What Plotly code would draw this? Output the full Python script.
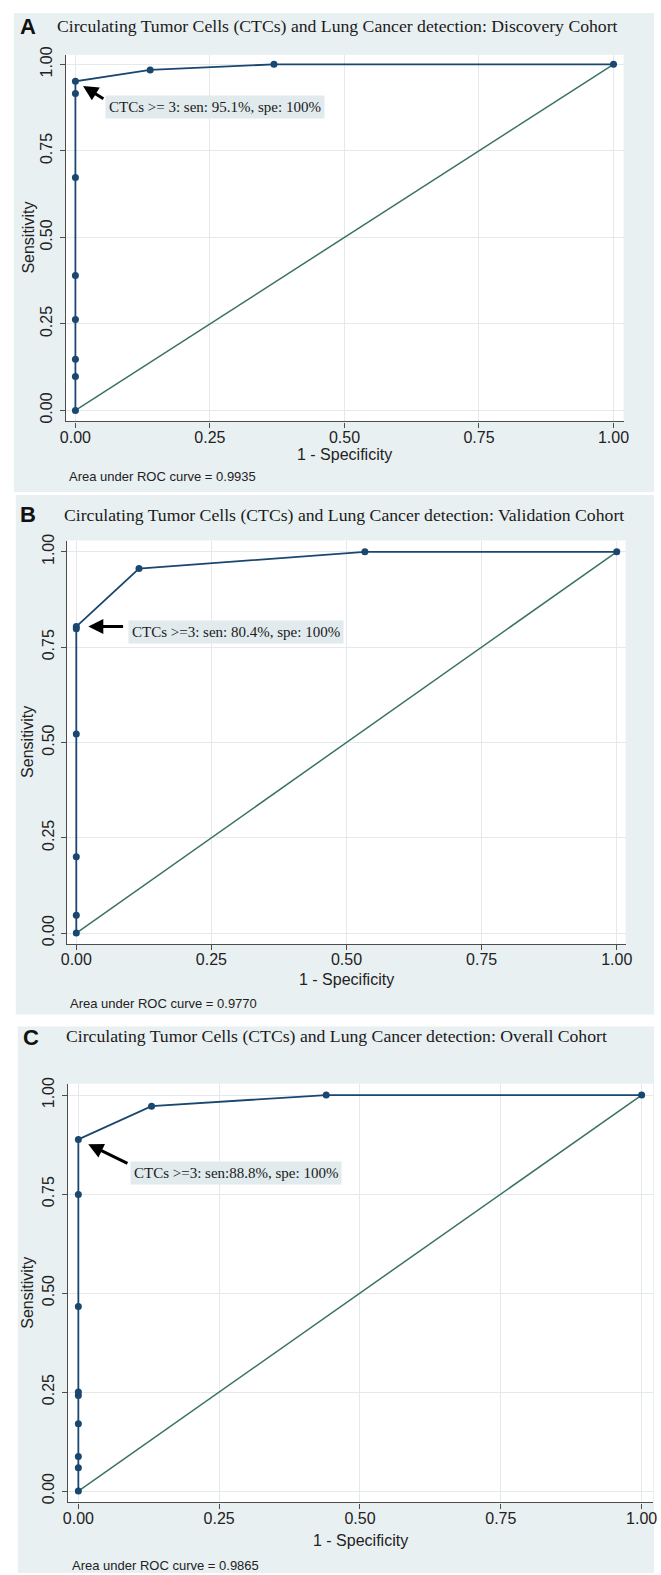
import plotly.graph_objects as go

W, H = 661, 1575

# ---------------- data ----------------
letters = ["A", "B", "C"]
titles = [
    "Circulating Tumor Cells (CTCs) and Lung Cancer detection: Discovery Cohort",
    "Circulating Tumor Cells (CTCs) and Lung Cancer detection: Validation Cohort",
    "Circulating Tumor Cells (CTCs) and Lung Cancer detection: Overall Cohort",
]
fpr_A = [0, 0, 0, 0, 0, 0, 0, 0, 0.139, 0.369, 1.0]
tpr_A = [0, 0.098, 0.148, 0.263, 0.390, 0.673, 0.916, 0.951, 0.984, 1.0, 1.0]
fpr_B = [0, 0, 0, 0, 0, 0, 0.116, 0.534, 1.0]
tpr_B = [0, 0.047, 0.200, 0.522, 0.798, 0.804, 0.956, 1.0, 1.0]
fpr_C = [0, 0, 0, 0, 0, 0, 0, 0, 0, 0.130, 0.440, 1.0]
tpr_C = [0, 0.059, 0.087, 0.170, 0.241, 0.250, 0.466, 0.749, 0.888, 0.972, 1.0, 1.0]
cut_index = [7, 5, 8]
cut_labels = [
    "CTCs >= 3: sen: 95.1%, spe: 100%",
    "CTCs >=3: sen: 80.4%, spe: 100%",
    "CTCs >=3: sen:88.8%, spe: 100%",
]
auc_labels = [
    "Area under ROC curve = 0.9935",
    "Area under ROC curve = 0.9770",
    "Area under ROC curve = 0.9865",
]
ref_line = [0, 1]
tick_vals = [0, 0.25, 0.5, 0.75, 1.0]
tick_text = ["0.00", "0.25", "0.50", "0.75", "1.00"]
x_title = "1 - Specificity"
y_title = "Sensitivity"

fprs = [fpr_A, fpr_B, fpr_C]
tprs = [tpr_A, tpr_B, tpr_C]

# ---------------- layout geometry (pixels) ----------------
panels = [
    dict(bg=(8, 5, 661, 487), plot=(61, 47, 630, 416), x0=70.8, x1=619.7, y1=56.7, y0=405.0,
         letter=(12, 19), title=(50, 18), auc=(62, 471), xt=449, yt=22,
         box=(101, 100), arrow=(29.5, 18.3, 9)),
    dict(bg=(10, 490, 661, 1013), plot=(62.4, 536, 632, 942), x0=71.7, x1=623.0, y1=547.3, y0=931.0,
         letter=(12, 509.5), title=(57, 510), auc=(63, 1002), xt=978, yt=22,
         box=(124, 628.3), arrow=(48.3, 0, 12)),
    dict(bg=(12, 1025, 661, 1575), plot=(63.2, 1082.7, 660, 1504), x0=73.8, x1=648.4, y1=1094.0, y0=1492.5,
         letter=(15, 1036), title=(59, 1035), auc=(65, 1567), xt=1542, yt=22,
         box=(126, 1172.7), arrow=(50.6, 24.7, 11)),
]

PANEL_BG = "#e9f0f2"
BOX_BG = "#e1eaed"
NAVY = "#1a476f"
GREEN = "#3b7264"
GRID = "#e6e9eb"
AXIS = "#4d4d4d"
SANS = "Liberation Sans, Arial, sans-serif"
SERIF = "Liberation Serif, Times New Roman, serif"


def px(x):
    return x / W


def py(y):
    return 1 - y / H


fig = go.Figure()
shapes = []
annotations = []

for i, p in enumerate(panels):
    sfx = "" if i == 0 else str(i + 1)
    xa, ya = "x" + sfx, "y" + sfx
    # reference diagonal
    fig.add_trace(go.Scatter(x=ref_line, y=ref_line, mode="lines",
                             line=dict(color=GREEN, width=1.5),
                             xaxis=xa, yaxis=ya, showlegend=False, hoverinfo="skip"))
    # ROC curve
    fig.add_trace(go.Scatter(x=fprs[i], y=tprs[i], mode="lines+markers",
                             line=dict(color=NAVY, width=1.8),
                             marker=dict(color=NAVY, size=7),
                             xaxis=xa, yaxis=ya, showlegend=False))

    l, t, r, b = p["plot"]
    xs = p["x1"] - p["x0"]
    ys = p["y0"] - p["y1"]
    xr = [(l - p["x0"]) / xs, (r - p["x0"]) / xs]
    yr = [(p["y0"] - b) / ys, (p["y0"] - t) / ys]

    common = dict(tickvals=tick_vals, ticktext=tick_text, showgrid=True, gridcolor=GRID,
                  gridwidth=1, zeroline=False, showline=True, linecolor=AXIS, linewidth=1.3,
                  ticks="outside", ticklen=5, tickcolor=AXIS, tickwidth=1.2,
                  tickfont=dict(family=SANS, size=16, color="#222222"), fixedrange=True)
    fig.update_layout(**{
        "xaxis" + sfx: dict(domain=[px(l), px(r)], range=xr, anchor=ya,
                            ticklabelstandoff=-4, **common),
        "yaxis" + sfx: dict(domain=[py(b), py(t)], range=yr, anchor=xa,
                            tickangle=-90, ticklabelstandoff=1, **common),
    })

    bl, bt, br, bb = p["bg"]
    shapes.append(dict(type="rect", xref="paper", yref="paper", x0=px(bl), x1=px(br),
                       y0=py(bb), y1=py(bt), fillcolor=PANEL_BG, line=dict(width=0), layer="below"))
    shapes.append(dict(type="rect", xref="paper", yref="paper", x0=px(l), x1=px(r),
                       y0=py(b), y1=py(t), fillcolor="white", line=dict(width=0), layer="below"))

    # panel letter
    annotations.append(dict(text="<b>%s</b>" % letters[i], xref="paper", yref="paper",
                            x=px(p["letter"][0]), y=py(p["letter"][1]), xanchor="left", yanchor="middle",
                            showarrow=False, font=dict(family=SANS, size=22, color="#111111")))
    # title
    annotations.append(dict(text=titles[i], xref="paper", yref="paper",
                            x=px(p["title"][0]), y=py(p["title"][1]), xanchor="left", yanchor="middle",
                            showarrow=False, font=dict(family=SERIF, size=17.7, color="#1a1a1a")))
    # AUC note
    annotations.append(dict(text=auc_labels[i], xref="paper", yref="paper",
                            x=px(p["auc"][0]), y=py(p["auc"][1]), xanchor="left", yanchor="middle",
                            showarrow=False, font=dict(family=SANS, size=13, color="#222222")))
    # axis titles
    annotations.append(dict(text=x_title, xref="paper", yref="paper",
                            x=px((l + r) / 2), y=py(p["xt"]), xanchor="center", yanchor="middle",
                            showarrow=False, font=dict(family=SANS, size=16, color="#222222")))
    annotations.append(dict(text=y_title, xref="paper", yref="paper", textangle=-90,
                            x=px(p["yt"]), y=py((t + b) / 2), xanchor="center", yanchor="middle",
                            showarrow=False, font=dict(family=SANS, size=16, color="#222222")))
    # cutoff label box
    annotations.append(dict(text=cut_labels[i], xref="paper", yref="paper",
                            x=px(p["box"][0]), y=py(p["box"][1]), xanchor="left", yanchor="middle",
                            showarrow=False, bgcolor=BOX_BG, borderpad=3,
                            font=dict(family=SERIF, size=15, color="#1a1a1a")))
    # arrow pointing at the cutoff point
    k = cut_index[i]
    axp, ayp, so = p["arrow"]
    annotations.append(dict(text="", xref=xa, yref=ya, x=fprs[i][k], y=tprs[i][k],
                            ax=axp, ay=ayp, axref="pixel", ayref="pixel",
                            showarrow=True, arrowhead=2, arrowsize=1.0, arrowwidth=3,
                            arrowcolor="#000000", standoff=so))

fig.update_layout(width=W, height=H, margin=dict(l=0, r=0, t=0, b=0),
                  paper_bgcolor="white", plot_bgcolor="rgba(0,0,0,0)",
                  shapes=shapes, annotations=annotations, showlegend=False)

fig.write_html("out.html", config={"displayModeBar": False},
               post_script="document.body.style.margin='0';document.body.style.padding='0';")
